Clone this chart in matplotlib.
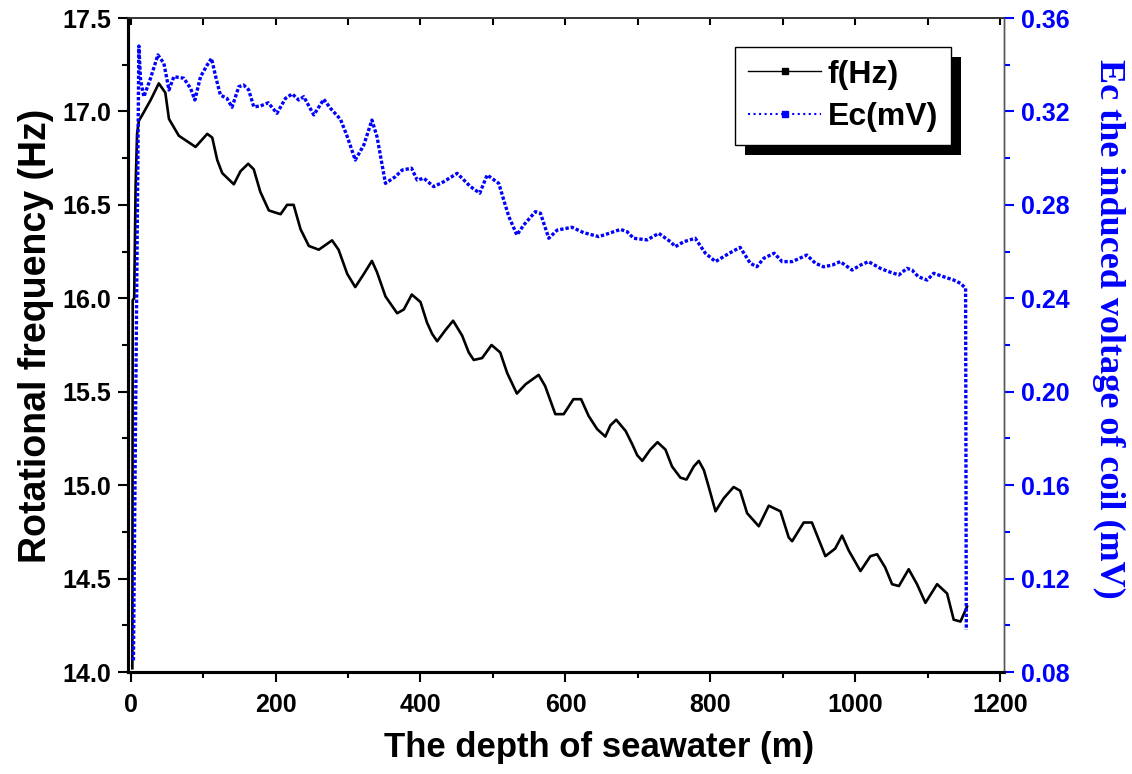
import matplotlib
matplotlib.use("Agg")
import matplotlib.pyplot as plt
from matplotlib.lines import Line2D
from matplotlib.patches import Rectangle
from matplotlib.ticker import MultipleLocator

plt.rcParams['font.family'] = ['Liberation Sans', 'DejaVu Sans']
plt.rcParams['font.weight'] = 'bold'
plt.rcParams['axes.labelweight'] = 'bold'

# rotational frequency
f_depth = [2.5, 3, 5, 7, 9, 11.5, 16, 27.6, 39, 48, 53, 66.6, 89.7, 105.8, 112.7,
           119.6, 126.5, 142.5, 151.7, 162.3, 170, 179, 190.8, 207, 216, 225, 234.5,
           246, 259.7, 278, 287, 299, 310, 321.8, 333, 340, 351.7, 367.8, 377, 388,
           400, 409, 416, 423, 434.5, 445, 457.5, 466.6, 473.5, 485, 498, 510, 519.6,
           533, 545, 563, 572, 586, 597.6, 611, 621.6, 632, 643.7, 655, 662, 670, 683,
           692, 699, 706, 717, 727, 738, 747, 758.6, 767, 777, 784, 791, 797.7, 807,
           818.4, 832, 841, 850.6, 866.7, 880.5, 896.6, 908, 912.7, 928.7, 940, 958.6,
           972, 981.6, 990.8, 1007, 1020.7, 1030, 1041, 1050.6, 1060, 1073.5, 1085,
           1096.6, 1112.7, 1126.5, 1135.6, 1145, 1154]
f_hz = [14.02, 15.99, 16.00, 16.60, 16.88, 16.95, 16.98, 17.06, 17.15, 17.10, 16.96,
        16.87, 16.81, 16.88, 16.86, 16.74, 16.67, 16.61, 16.68, 16.72, 16.69, 16.57,
        16.47, 16.45, 16.50, 16.50, 16.37, 16.28, 16.26, 16.31, 16.26, 16.13, 16.06,
        16.13, 16.20, 16.14, 16.01, 15.92, 15.94, 16.02, 15.98, 15.87, 15.81, 15.77,
        15.83, 15.88, 15.80, 15.71, 15.67, 15.68, 15.75, 15.71, 15.60, 15.49, 15.54,
        15.59, 15.53, 15.38, 15.38, 15.46, 15.46, 15.37, 15.30, 15.26, 15.32, 15.35,
        15.29, 15.22, 15.16, 15.13, 15.19, 15.23, 15.19, 15.10, 15.04, 15.03, 15.10,
        15.13, 15.08, 14.99, 14.86, 14.93, 14.99, 14.97, 14.85, 14.78, 14.89, 14.86,
        14.72, 14.70, 14.80, 14.80, 14.62, 14.66, 14.73, 14.65, 14.54, 14.62, 14.63,
        14.56, 14.47, 14.46, 14.55, 14.47, 14.37, 14.47, 14.42, 14.28, 14.27, 14.35]

# induced voltage of the coil
e_depth = [4, 11.5, 13.8, 18.4, 27.6, 37.7, 46, 53, 59.8, 73.5, 82.8, 88.7, 96.6,
           105.8, 111.7, 118, 124, 133, 140, 149.4, 156, 163, 170, 179, 190, 202,
           213.8, 223, 232, 239, 252.8, 266.6, 275.9, 289.7, 299, 310, 321.8, 333, 340,
           351.7, 365.5, 374.7, 387.6, 395.5, 404.6, 418.3, 432, 450.6, 469, 481.8, 492,
           508, 517, 522, 533, 542.5, 558.6, 565.5, 577, 588.6, 609, 625, 646, 660, 676,
           685, 694, 712.6, 728.7, 745, 751.7, 763, 779, 793, 807, 818, 830, 841, 855,
           864, 873.5, 888, 898.8, 912.7, 933, 944.8, 956, 968, 979, 995.4, 1007, 1018,
           1034.5, 1046, 1060, 1071, 1078, 1087, 1099, 1108, 1122, 1135.6, 1145, 1152,
           1153]
e_mv = [0.085, 0.348, 0.3335, 0.3263, 0.3342, 0.3442, 0.3406, 0.3292, 0.3349, 0.3342,
        0.3299, 0.3249, 0.3349, 0.3399, 0.3427, 0.3342, 0.3270, 0.3256, 0.3218, 0.3306,
        0.3313, 0.3292, 0.3220, 0.3223, 0.3237, 0.3192, 0.3256, 0.3275, 0.3249, 0.3263,
        0.3185, 0.3252, 0.3213, 0.3166, 0.3092, 0.2992, 0.3056, 0.3163, 0.3092, 0.2892,
        0.2921, 0.2949, 0.2957, 0.2906, 0.2914, 0.2878, 0.2899, 0.2935, 0.2878, 0.2850,
        0.2928, 0.2892, 0.2799, 0.2749, 0.2671, 0.2714, 0.2771, 0.2764, 0.2657, 0.2692,
        0.2704, 0.2681, 0.2664, 0.2678, 0.2695, 0.2685, 0.2657, 0.2650, 0.2678, 0.2642,
        0.2621, 0.2642, 0.2657, 0.2593, 0.2557, 0.2578, 0.2600, 0.2618, 0.2550, 0.2535,
        0.2571, 0.2593, 0.2557, 0.2557, 0.2585, 0.2550, 0.2535, 0.2542, 0.2557, 0.2521,
        0.2542, 0.2557, 0.2528, 0.2514, 0.2500, 0.2528, 0.2521, 0.2492, 0.2478, 0.2507,
        0.2492, 0.2478, 0.2464, 0.2443, 0.098]

blue = '#0000ff'

fig = plt.figure(figsize=(11.32, 7.74), dpi=100)
ax = fig.add_axes([128 / 1132, 1 - 672 / 774, 876 / 1132, 654 / 774])
ax2 = ax.twinx()

ax.plot(f_depth, f_hz, color='black', lw=1.9)
ax2.plot(e_depth, e_mv, color=blue, lw=2.4, ls=(0, (1, 0.6)))

ax.set_xlim(-3.5, 1205)
ax.set_ylim(14.0, 17.5)
ax2.set_ylim(0.08, 0.36)

ax.xaxis.set_major_locator(MultipleLocator(200))
ax.xaxis.set_minor_locator(MultipleLocator(100))
ax.yaxis.set_major_locator(MultipleLocator(0.5))
ax.yaxis.set_minor_locator(MultipleLocator(0.25))
ax2.yaxis.set_major_locator(MultipleLocator(0.04))
ax2.yaxis.set_minor_locator(MultipleLocator(0.02))
ax.yaxis.set_major_formatter(plt.FormatStrFormatter('%.1f'))
ax2.yaxis.set_major_formatter(plt.FormatStrFormatter('%.2f'))

ax.tick_params(axis='both', which='major', direction='out', length=7, width=1.5,
               labelsize=18, pad=5)
ax.tick_params(axis='x', which='major', pad=8)
ax.tick_params(axis='both', which='minor', direction='out', length=4, width=1.5)
ax2.tick_params(axis='y', which='major', direction='out', length=7, width=1.5,
                colors=blue, labelsize=18, pad=5)
ax2.tick_params(axis='y', which='minor', direction='out', length=4, width=1.5,
                colors=blue)

top = ax.secondary_xaxis('top')
top.set_xticks(range(0, 1201, 100))
top.tick_params(direction='in', length=5, width=1.5, labeltop=False)
top.spines['top'].set_visible(False)

for a in (ax, ax2):
    a.spines['left'].set_linewidth(2.2)
    a.spines['bottom'].set_linewidth(2.2)
    a.spines['right'].set_linewidth(1.0)
    a.spines['right'].set_color('#555555')
    a.spines['top'].set_linewidth(1.2)
    a.spines['top'].set_color('#333333')

ax.set_xlabel('The depth of seawater (m)', fontsize=25, labelpad=10)
ax.xaxis.label.set_x(0.538)
ax.set_ylabel('Rotational frequency (Hz)', fontsize=27, labelpad=6)
ax.yaxis.label.set_y(0.514)
ax2.set_ylabel('Ec the induced voltage of coil (mV)', fontsize=26, color=blue,
               family=['Liberation Serif'], fontweight='bold', rotation=270,
               labelpad=40)
ax2.yaxis.label.set_y(0.524)

handles = [Line2D([0], [0], color='black', lw=1, marker='s', markersize=5),
           Line2D([0], [0], color=blue, lw=1.5, ls=':', marker='s', markersize=5)]
leg = ax2.legend(handles, ['f(Hz)', 'Ec(mV)'], loc='upper left',
                 bbox_to_anchor=(0.693, 0.956), borderaxespad=0, fontsize=23,
                 fancybox=False, framealpha=1, edgecolor='black',
                 handlelength=2.3, handletextpad=0.2, borderpad=0.4,
                 labelspacing=0.4)
leg.get_frame().set_linewidth(1.0)
leg.set_zorder(6)

# solid black shadow behind the legend box
fig.canvas.draw()
bb = leg.get_window_extent().transformed(ax2.transAxes.inverted())
ax2.add_patch(Rectangle((bb.x0 + 10 / 876, bb.y0 - 10 / 654), bb.width, bb.height,
                        transform=ax2.transAxes, facecolor='black',
                        edgecolor='none', zorder=5, clip_on=False))

fig.savefig('out.png', dpi=100)
